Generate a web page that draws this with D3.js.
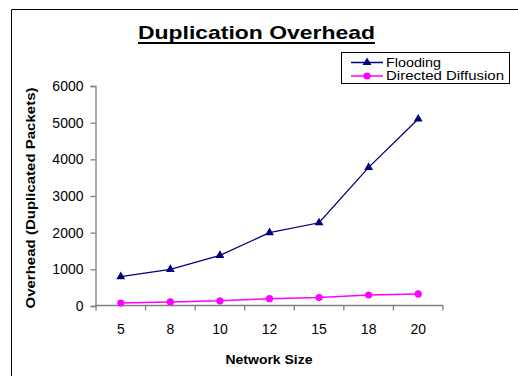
<!DOCTYPE html>
<html>
<head>
<meta charset="utf-8">
<script src="https://cdn.jsdelivr.net/npm/d3@7"></script>
<style>
  html, body { margin: 0; padding: 0; background: #fff; }
  svg { display: block; font-family: "Liberation Sans", Arial, sans-serif; }
</style>
</head>
<body>
<svg id="chart" width="518" height="376"></svg>
<script>
// Network sizes on the x axis
const networkSizes = ["5", "8", "10", "12", "15", "18", "20"];
// Duplicated packets per protocol
const floodingValues = [800, 1000, 1380, 2000, 2270, 3780, 5100];
const diffusionValues = [80, 110, 140, 200, 230, 300, 330];
const yTickValues = [0, 1000, 2000, 3000, 4000, 5000, 6000];
const seriesNames = ["Flooding", "Directed Diffusion"];

const svg = d3.select("#chart");
const W = 518, H = 376;
const plot = { left: 96, right: 443, top: 86, bottom: 306 };
const axisColor = "#808080";
const colors = { flood: "#000080", diff: "#ff00ff" };

svg.append("rect").attr("width", W).attr("height", H).attr("fill", "#fff");

// Frame around the chart area (left and top edges visible)
svg.append("path")
  .attr("d", `M11.5,${H} V9.5 H${W}`)
  .attr("fill", "none").attr("stroke", "#000").attr("stroke-width", 1);

const x = d3.scaleBand().domain(networkSizes).range([plot.left, plot.right]).padding(0);
const y = d3.scaleLinear().domain([0, 6000]).range([plot.bottom, plot.top]);

// Y axis
const yAxis = svg.append("g")
  .attr("transform", `translate(${plot.left - 0.5},0)`)
  .call(d3.axisLeft(y).tickValues(yTickValues).tickSize(5).tickPadding(7).tickFormat(d3.format("d")));
yAxis.select(".domain").attr("stroke", axisColor).attr("stroke-width", 1.3);
yAxis.selectAll(".tick line").attr("stroke", axisColor).attr("stroke-width", 1.3);
yAxis.selectAll(".tick text").attr("font-size", 14).attr("fill", "#000")
  .attr("font-family", "Liberation Sans, Arial, sans-serif");

// X axis: labels centred on categories, tick marks on category boundaries
const xAxis = svg.append("g")
  .attr("transform", `translate(0,${plot.bottom - 0.5})`)
  .call(d3.axisBottom(x).tickSize(0).tickPadding(0));
xAxis.select(".domain").remove();
xAxis.selectAll(".tick text").attr("font-size", 14).attr("fill", "#000")
  .attr("dy", null).attr("y", 28)
  .attr("font-family", "Liberation Sans, Arial, sans-serif");
xAxis.append("line")
  .attr("x1", plot.left - 0.5).attr("x2", plot.right)
  .attr("stroke", axisColor).attr("stroke-width", 1.3);
const boundaries = networkSizes.map(d => x(d)).concat([x(networkSizes[networkSizes.length - 1]) + x.bandwidth()]);
xAxis.selectAll(".bound").data(boundaries).join("line")
  .attr("class", "bound")
  .attr("x1", d => d).attr("x2", d => d).attr("y1", 0).attr("y2", 5)
  .attr("stroke", axisColor).attr("stroke-width", 1.3);

const cx = d => x(d) + x.bandwidth() / 2;
const line = d3.line().x(d => cx(d.k)).y(d => y(d.v));

const floodData = networkSizes.map((k, i) => ({ k, v: floodingValues[i] }));
const diffData = networkSizes.map((k, i) => ({ k, v: diffusionValues[i] }));

const tri = d3.symbol().type(d3.symbolTriangle).size(34);

// Directed Diffusion series
svg.append("path").datum(diffData).attr("d", line)
  .attr("fill", "none").attr("stroke", colors.diff).attr("stroke-width", 1.5);
svg.selectAll(".dd").data(diffData).join("circle")
  .attr("class", "dd").attr("cx", d => cx(d.k)).attr("cy", d => y(d.v)).attr("r", 3.6)
  .attr("fill", colors.diff);

// Flooding series
svg.append("path").datum(floodData).attr("d", line)
  .attr("fill", "none").attr("stroke", colors.flood).attr("stroke-width", 1.3);
svg.selectAll(".fl").data(floodData).join("path")
  .attr("class", "fl").attr("d", tri)
  .attr("transform", d => `translate(${cx(d.k)},${y(d.v)})`)
  .attr("fill", colors.flood);

// Title
svg.append("text").attr("x", 256.5).attr("y", 38.5).attr("text-anchor", "middle")
  .attr("font-size", 18.5).attr("font-weight", "bold")
  .attr("textLength", 237).attr("lengthAdjust", "spacingAndGlyphs")
  .text("Duplication Overhead");
svg.append("line").attr("x1", 138).attr("x2", 375).attr("y1", 43).attr("y2", 43)
  .attr("stroke", "#000").attr("stroke-width", 2);

// Axis titles
svg.append("text").attr("x", 269).attr("y", 363.5).attr("text-anchor", "middle")
  .attr("font-size", 13).attr("font-weight", "bold")
  .attr("textLength", 87).attr("lengthAdjust", "spacingAndGlyphs")
  .text("Network Size");
svg.append("text").attr("transform", "translate(34.5,198) rotate(-90)")
  .attr("text-anchor", "middle")
  .attr("font-size", 13).attr("font-weight", "bold")
  .attr("textLength", 221).attr("lengthAdjust", "spacingAndGlyphs")
  .text("Overhead (Duplicated Packets)");

// Legend
const lg = svg.append("g");
lg.append("rect").attr("x", 341.5).attr("y", 52.5).attr("width", 168).attr("height", 31)
  .attr("fill", "#fff").attr("stroke", "#000").attr("stroke-width", 1);
const legendRows = [
  { name: seriesNames[0], color: colors.flood, y: 62.5, len: 55, marker: "tri" },
  { name: seriesNames[1], color: colors.diff, y: 76, len: 118, marker: "dot" }
];
legendRows.forEach(r => {
  lg.append("line").attr("x1", 351).attr("x2", 383).attr("y1", r.y).attr("y2", r.y)
    .attr("stroke", r.color).attr("stroke-width", 1.5);
  if (r.marker === "tri") {
    lg.append("path").attr("d", tri).attr("transform", `translate(367,${r.y})`).attr("fill", r.color);
  } else {
    lg.append("circle").attr("cx", 367).attr("cy", r.y).attr("r", 3.6).attr("fill", r.color);
  }
  lg.append("text").attr("x", 386).attr("y", r.y + 4).attr("font-size", 13)
    .attr("textLength", r.len).attr("lengthAdjust", "spacingAndGlyphs")
    .text(r.name);
});
</script>
</body>
</html>
